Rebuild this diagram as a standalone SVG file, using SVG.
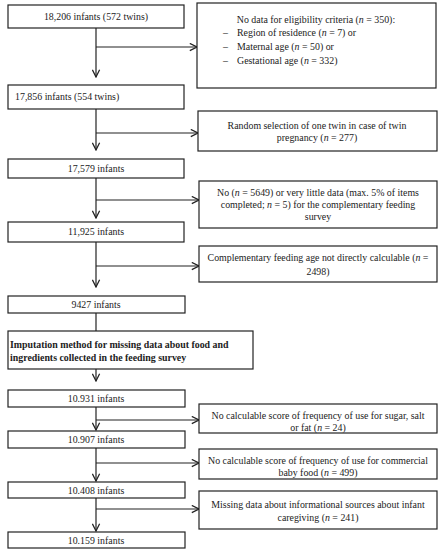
<svg xmlns="http://www.w3.org/2000/svg" width="442" height="550" viewBox="0 0 442 550">
<defs>
<style>
.b{fill:#fff;stroke:#222;stroke-width:1.2}
.t{font-family:"Liberation Serif","DejaVu Serif",serif;font-size:9.9px;fill:#222}
.c{text-anchor:middle}
.bold{font-weight:bold}
.l{fill:none;stroke:#222;stroke-width:1.2}
</style>
<marker id="a" viewBox="0 0 10 10" refX="9" refY="5" markerWidth="9" markerHeight="9" markerUnits="userSpaceOnUse" orient="auto">
<path d="M1,1 L9,5 L1,9" fill="none" stroke="#222" stroke-width="1.4"/>
</marker>
</defs>
<rect width="442" height="550" fill="#fff"/>
<g id="connectors">
<path class="l" d="M96,28 V77" marker-end="url(#a)"/>
<path class="l" d="M96,47 H197" marker-end="url(#a)"/>
<path class="l" d="M96,109 V150" marker-end="url(#a)"/>
<path class="l" d="M96,133 H198" marker-end="url(#a)"/>
<path class="l" d="M96,178 V218" marker-end="url(#a)"/>
<path class="l" d="M96,200 H199" marker-end="url(#a)"/>
<path class="l" d="M96,242 V287" marker-end="url(#a)"/>
<path class="l" d="M96,266 H199" marker-end="url(#a)"/>
<path class="l" d="M96,313 V331"/>
<path class="l" d="M96,369 V381" marker-end="url(#a)"/>
<path class="l" d="M96,407 V430" marker-end="url(#a)"/>
<path class="l" d="M96,420 H199" marker-end="url(#a)"/>
<path class="l" d="M96,448 V481" marker-end="url(#a)"/>
<path class="l" d="M96,463 H199" marker-end="url(#a)"/>
<path class="l" d="M96,498 V531" marker-end="url(#a)"/>
<path class="l" d="M96,509 H199" marker-end="url(#a)"/>
</g>
<g id="n1"><rect class="b" x="8" y="5" width="176" height="23"/><text class="t c" x="96" y="20">18,206 infants (572 twins)</text></g>
<g id="e1"><rect class="b" x="197" y="3" width="239" height="85"/>
<text class="t c" x="316" y="23">No data for eligibility criteria (<tspan font-style="italic">n</tspan> = 350):</text>
<text class="t" x="223" y="36">–</text><text class="t" x="237" y="36">Region of residence (<tspan font-style="italic">n</tspan> = 7) or</text>
<text class="t" x="223" y="50">–</text><text class="t" x="237" y="50">Maternal age (<tspan font-style="italic">n</tspan> = 50) or</text>
<text class="t" x="223" y="64">–</text><text class="t" x="237" y="64">Gestational age (<tspan font-style="italic">n</tspan> = 332)</text>
</g>
<g id="n2"><rect class="b" x="8" y="85" width="176" height="24"/><text class="t" x="15" y="100">17,856 infants (554 twins)</text></g>
<g id="e2"><rect class="b" x="198" y="111" width="239" height="40"/>
<text class="t c" x="317" y="129">Random selection of one twin in case of twin</text>
<text class="t c" x="317" y="141">pregnancy (<tspan font-style="italic">n</tspan> = 277)</text>
</g>
<g id="n3"><rect class="b" x="8" y="159" width="176" height="19"/><text class="t c" x="96" y="171.5">17,579 infants</text></g>
<g id="e3"><rect class="b" x="199" y="181" width="238" height="47"/>
<text class="t c" x="318" y="196">No (<tspan font-style="italic">n</tspan> = 5649) or very little data (max. 5% of items</text>
<text class="t c" x="318" y="208">completed; <tspan font-style="italic">n</tspan> = 5) for the complementary feeding</text>
<text class="t c" x="318" y="220">survey</text>
</g>
<g id="n4"><rect class="b" x="8" y="222" width="176" height="20"/><text class="t c" x="96" y="235">11,925 infants</text></g>
<g id="e4"><rect class="b" x="199" y="246" width="238" height="36"/>
<text class="t c" x="318" y="261">Complementary feeding age not directly calculable (<tspan font-style="italic">n</tspan> =</text>
<text class="t c" x="318" y="275">2498)</text>
</g>
<g id="n5"><rect class="b" x="8" y="296" width="177" height="17"/><text class="t c" x="96" y="308">9427 infants</text></g>
<g id="n6"><rect class="b" x="8" y="331" width="245" height="38"/>
<text class="t bold" x="10" y="348">Imputation method for missing data about food and</text>
<text class="t bold" x="10" y="361">ingredients collected in the feeding survey</text>
</g>
<g id="n7"><rect class="b" x="8" y="390" width="177" height="17"/><text class="t c" x="96" y="402">10.931 infants</text></g>
<g id="e7"><rect class="b" x="199" y="404" width="238" height="29"/>
<text class="t c" x="318" y="418.5">No calculable score of frequency of use for sugar, salt</text>
<text class="t c" x="318" y="430.5">or fat (<tspan font-style="italic">n</tspan> = 24)</text>
</g>
<g id="n8"><rect class="b" x="8" y="431" width="177" height="17"/><text class="t c" x="96" y="443">10.907 infants</text></g>
<g id="e8"><rect class="b" x="199" y="449" width="238" height="30"/>
<text class="t c" x="318" y="463.5">No calculable score of frequency of use for commercial</text>
<text class="t c" x="318" y="475.5">baby food (<tspan font-style="italic">n</tspan> = 499)</text>
</g>
<g id="n9"><rect class="b" x="8" y="482" width="177" height="16"/><text class="t c" x="96" y="493.5">10.408 infants</text></g>
<g id="e9"><rect class="b" x="199" y="491" width="238" height="38"/>
<text class="t c" x="318" y="507.5">Missing data about informational sources about infant</text>
<text class="t c" x="318" y="520.5">caregiving (<tspan font-style="italic">n</tspan> = 241)</text>
</g>
<g id="n10"><rect class="b" x="8" y="532" width="177" height="16"/><text class="t c" x="96" y="543.5">10.159 infants</text></g>
</svg>
